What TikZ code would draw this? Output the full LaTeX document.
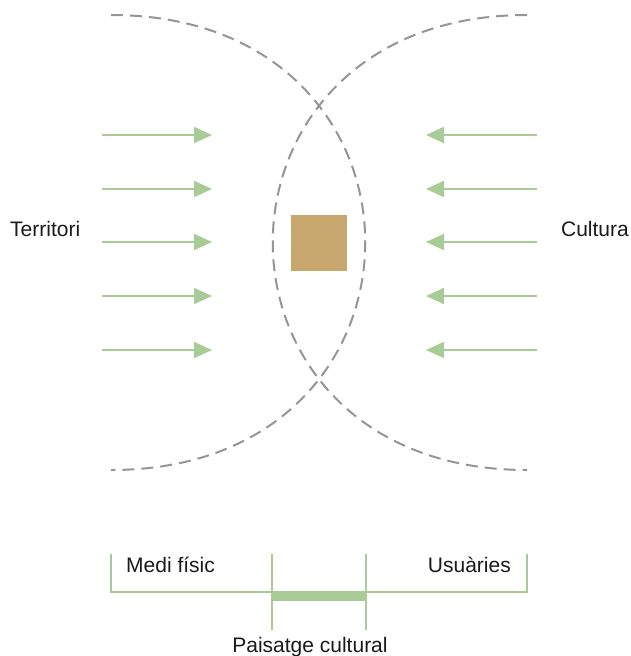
\documentclass[tikz,border=0pt]{standalone}
\usepackage{fontspec}
\setmainfont{Liberation Sans}
\usetikzlibrary{arrows.meta}
\definecolor{lgreen}{HTML}{A9CB97}
\definecolor{dgrey}{HTML}{959595}
\definecolor{sand}{HTML}{C8A76F}
\definecolor{txt}{HTML}{1A1A1A}
\tikzset{
  arcline/.style={draw=dgrey,line width=2pt,dash pattern=on 12pt off 7pt},
  flow/.style={draw=lgreen,line width=2pt,-{Triangle[length=18pt,width=16pt]}},
  lbl/.style={inner sep=0pt,text=txt,font=\fontsize{21pt}{25pt}\selectfont},
  brk/.style={draw=lgreen,line width=1.5pt},
}
\begin{document}
\begin{tikzpicture}[x=1pt,y=-1pt]
\useasboundingbox (0,0) rectangle (630,656);
% arcs
\draw[arcline] (111,15) .. controls (450,15) and (450,470) .. (111,470);
\draw[arcline] (527,15) .. controls (188,15) and (188,470) .. (527,470);
% central square
\node[fill=sand,minimum width=56pt,minimum height=56pt,inner sep=0pt] (core) at (319,243) {};
% arrows
\foreach \y [count=\i] in {135,189,242,296,350}{
  \coordinate (ls\i) at (102,\y);
  \coordinate (le\i) at (212,\y);
  \coordinate (rs\i) at (537,\y);
  \coordinate (re\i) at (426,\y);
  \draw[flow] (ls\i) -- (le\i);
  \draw[flow] (rs\i) -- (re\i);
}
% side labels
\node[lbl,anchor=base west] (terr) at (10,236) {Territori};
\node[lbl,anchor=base east] (cult) at (629,236) {Cultura};
% bottom bracket
\coordinate (b1t) at (111,554);
\coordinate (b1) at (111,592);
\coordinate (b2t) at (272,554);
\coordinate (b2) at (272,630);
\coordinate (b3t) at (366,554);
\coordinate (b3) at (366,630);
\coordinate (b4t) at (527,554);
\coordinate (b4) at (527,592);
\draw[brk] (b1t) -- (b1) -- (b4) -- (b4t);
\draw[brk] (b2t) -- (b2);
\draw[brk] (b3t) -- (b3);
\fill[lgreen] (272,593) rectangle (366,601);
\node[lbl,anchor=base west] (medi) at (126,572) {Medi físic};
\node[lbl,anchor=base east] (usu) at (511,572) {Usuàries};
\node[lbl,anchor=base] (pais) at (310,652) {Paisatge cultural};
\end{tikzpicture}
\end{document}
